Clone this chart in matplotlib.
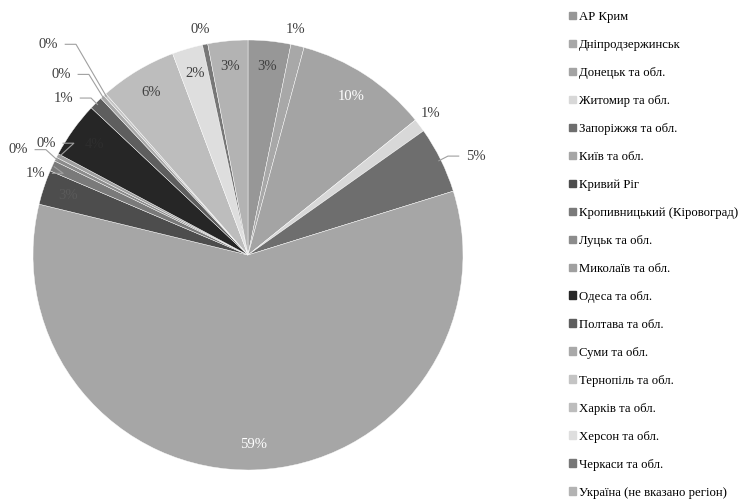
import matplotlib.pyplot as plt
import numpy as np

regions = ['АР Крим', 'Дніпродзержинськ', 'Донецьк та обл.', 'Житомир та обл.',
           'Запоріжжя та обл.', 'Київ та обл.', 'Кривий Ріг',
           'Кропивницький (Кіровоград)', 'Луцьк та обл.', 'Миколаїв та обл.',
           'Одеса та обл.', 'Полтава та обл.', 'Суми та обл.', 'Тернопіль та обл.',
           'Харків та обл.', 'Херсон та обл.', 'Черкаси та обл.',
           'Україна (не вказано регіон)']
shares = [3.2, 1.0, 10.0, 1.0, 5.0, 58.6, 2.6, 0.8, 0.3, 0.3,
          4.2, 1.0, 0.3, 0.2, 5.8, 2.3, 0.4, 3.0]

colors = ['#979797', '#a8a8a8', '#a4a4a4', '#d8d8d8', '#6e6e6e', '#a6a6a6',
          '#4d4d4d', '#7a7a7a', '#8c8c8c', '#a0a0a0', '#262626', '#5e5e5e',
          '#a9a9a9', '#c4c4c4', '#bdbdbd', '#dedede', '#777777', '#b3b3b3']

# label placement: inside at 0.88 r unless listed here (outside, x/y in radius units)
outside = {1: (0.22, 1.05), 3: (0.85, 0.66), 4: (1.06, 0.46),
           16: (-0.22, 1.05), 13: (-0.93, 0.98), 12: (-0.87, 0.84),
           11: (-0.86, 0.73), 9: (-0.94, 0.52), 8: (-1.07, 0.49),
           7: (-0.99, 0.38)}
leaders = [4, 13, 12, 11, 9, 8, 7]
text_col = {2: 'white', 5: 'white', 10: '#2e2e2e', 6: '#5a5a5a'}

fig = plt.figure(figsize=(7.42, 5.03), dpi=100)
ax = fig.add_axes([33 / 742, (503 - 255 - 215) / 503, 430 / 742, 430 / 503])

wedges, _ = ax.pie(shares, colors=colors, startangle=90, counterclock=False,
                   wedgeprops=dict(edgecolor='white', linewidth=0.3))
ax.set_xlim(-1, 1)
ax.set_ylim(-1, 1)
ax.set_aspect('equal')

total = sum(shares)
for i, w in enumerate(wedges):
    ang = np.deg2rad((w.theta1 + w.theta2) / 2)
    lbl = '%d%%' % round(shares[i] / total * 100)
    if i in outside:
        tx, ty = outside[i]
        ax.text(tx, ty, lbl, ha='center', va='center', fontsize=10.5,
                family='Liberation Serif', color='#404040')
        if i in leaders:
            ex, ey = np.cos(ang), np.sin(ang)
            sx = tx + (0.08 if tx < 0 else -0.08)
            ax.plot([sx, sx + (0.05 if tx < 0 else -0.05), ex * 0.99],
                    [ty, ty, ey * 0.99], color='#a0a0a0', lw=0.8,
                    clip_on=False)
    else:
        ax.text(0.88 * np.cos(ang), 0.88 * np.sin(ang), lbl, ha='center',
                va='center', fontsize=10.5, family='Liberation Serif',
                color=text_col.get(i, '#404040'))

handles = [plt.Rectangle((0, 0), 1, 1, color=c) for c in colors]
fig.legend(handles, regions, loc='upper left', bbox_to_anchor=(0.760, 0.988),
           frameon=False, prop={'family': 'Liberation Serif', 'size': 9.2},
           handlelength=0.55, handleheight=0.55, handletextpad=0.25,
           labelspacing=1.25, borderaxespad=0)

fig.savefig('out.png', dpi=100)
